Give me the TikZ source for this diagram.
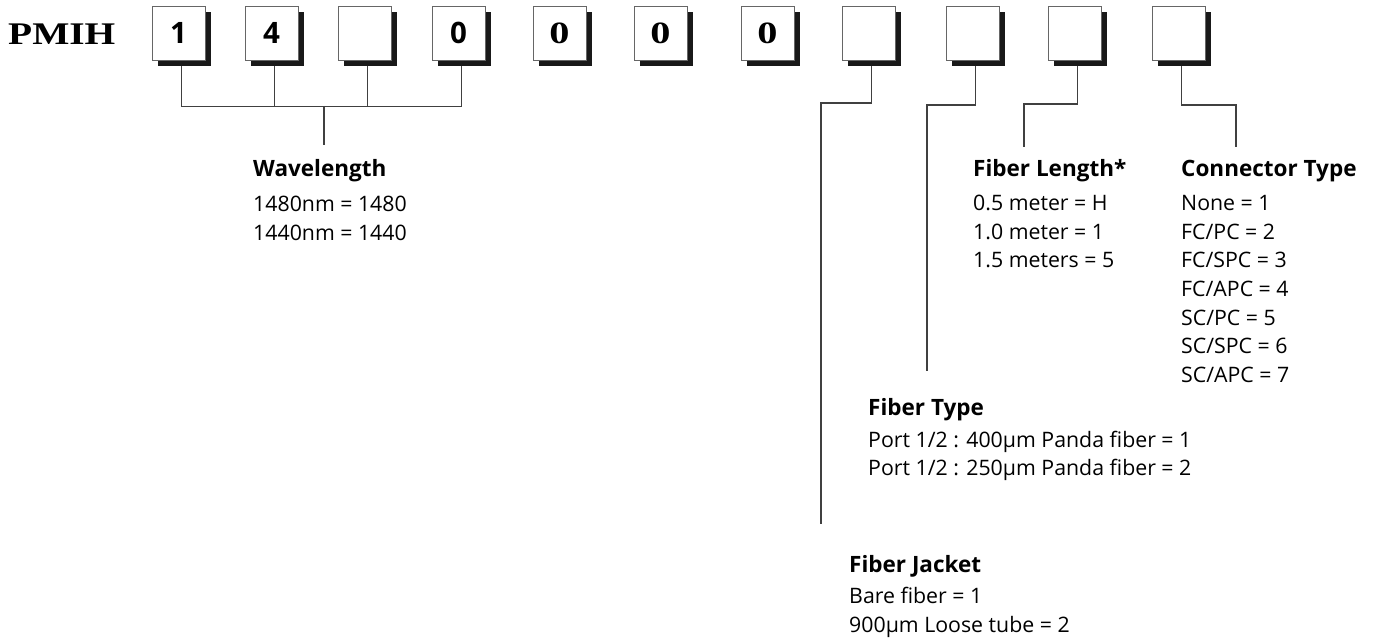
\documentclass[tikz,border=0pt]{standalone}
\usepackage{fontspec}
\setmainfont{Open Sans}
\newfontfamily\pmihfont{Liberation Serif}
\usetikzlibrary{shadows}
\newcommand{\widezero}{\scalebox{1.3}[1]{0}}
\begin{document}
\begin{tikzpicture}[x=1pt,y=-1pt,
  digitbox/.style={draw=black!60, line width=0.9pt, fill=white,
    minimum width=53pt, minimum height=54pt, inner sep=0pt,
    drop shadow={shadow xshift=6pt, shadow yshift=-6pt, opacity=1, fill=black!90}},
  sdigit/.style={font=\fontsize{29.5}{30}\selectfont\bfseries},
  rdigit/.style={font=\pmihfont\fontsize{31}{31}\selectfont\bfseries},
  wire/.style={draw=black!75, line width=1.1pt},
  ttl/.style={anchor=base west, inner sep=0pt, font=\fontsize{22.5}{26}\selectfont\bfseries},
  txt/.style={anchor=base west, inner sep=0pt, font=\fontsize{21.3}{26}\selectfont},
]
\useasboundingbox (0,0) rectangle (1377,639);

\node[anchor=base west, inner sep=0pt] (pmih) at (8,45)
  {\scalebox{1.25}[1]{\pmihfont\bfseries\fontsize{31.5}{32}\selectfont PMIH}};

\node[digitbox, sdigit] (b1) at (178.5,33) {1};
\node[digitbox, sdigit] (b2) at (271.5,33) {4};
\node[digitbox] (b3) at (364.5,33) {};
\node[digitbox, sdigit] (b4) at (458.5,33) {0};
\node[digitbox, rdigit] (b5) at (559.5,33) {\widezero};
\node[digitbox, rdigit] (b6) at (660.5,33) {\widezero};
\node[digitbox, rdigit] (b7) at (767.5,33) {\widezero};
\node[digitbox] (b8) at (868.5,33) {};
\node[digitbox] (b9) at (972.5,33) {};
\node[digitbox] (b10) at (1074.5,33) {};
\node[digitbox] (b11) at (1178.5,33) {};

% wavelength bracket
\draw[wire] ([xshift=3pt,yshift=-6pt]b1.south) -- ++(0,40) -| ([xshift=3pt,yshift=-6pt]b4.south);
\draw[wire] ([xshift=3pt,yshift=-6pt]b2.south) -- ++(0,40);
\draw[wire] ([xshift=3pt,yshift=-6pt]b3.south) -- ++(0,40);
\coordinate (wtop) at (324,106);
\coordinate (wbot) at (324,145);
\draw[wire] (wtop) -- (wbot);

% jacket
\coordinate (jbend) at (821,103);
\coordinate (jend) at (821,524);
\draw[wire] ([xshift=3pt,yshift=-6pt]b8.south) |- (jbend) -- (jend);
% fiber type
\coordinate (tbend) at (927,105);
\coordinate (tend) at (927,371);
\draw[wire] ([xshift=3pt,yshift=-6pt]b9.south) |- (tbend) -- (tend);
% fiber length
\coordinate (lbend) at (1024,104);
\coordinate (lend) at (1024,147);
\draw[wire] ([xshift=3pt,yshift=-6pt]b10.south) |- (lbend) -- (lend);
% connector
\coordinate (cbend) at (1236,105);
\coordinate (cend) at (1236,147);
\draw[wire] ([xshift=3pt,yshift=-6pt]b11.south) |- (cbend) -- (cend);

% texts
\node[ttl] (wlt) at (253,177) {Wavelength};
\node[txt] (wl1) at (253,212) {1480nm = 1480};
\node[txt] (wl2) at (253,241) {1440nm = 1440};

\node[ttl] (flt) at (973,177) {Fiber Length*};
\node[txt] (fl1) at (973,211) {0.5 meter = H};
\node[txt] (fl2) at (973,239.5) {1.0 meter = 1};
\node[txt] (fl3) at (973,268) {1.5 meters = 5};

\node[ttl] (ctt) at (1181,177) {Connector Type};
\node[txt] (ct1) at (1181,211) {None = 1};
\node[txt] (ct2) at (1181,239.5) {FC/PC = 2};
\node[txt] (ct3) at (1181,268) {FC/SPC = 3};
\node[txt] (ct4) at (1181,296.5) {FC/APC = 4};
\node[txt] (ct5) at (1181,325) {SC/PC = 5};
\node[txt] (ct6) at (1181,353.5) {SC/SPC = 6};
\node[txt] (ct7) at (1181,382) {SC/APC = 7};

\node[ttl] (ftt) at (868,415) {Fiber Type};
\node[txt] (ft1) at (868,447) {Port 1/2 : 400µm Panda fiber = 1};
\node[txt] (ft2) at (868,475) {Port 1/2 : 250µm Panda fiber = 2};

\node[ttl] (fjt) at (849,572) {Fiber Jacket};
\node[txt] (fj1) at (849,603) {Bare fiber = 1};
\node[txt] (fj2) at (849,632) {900µm Loose tube = 2};
\end{tikzpicture}
\end{document}
